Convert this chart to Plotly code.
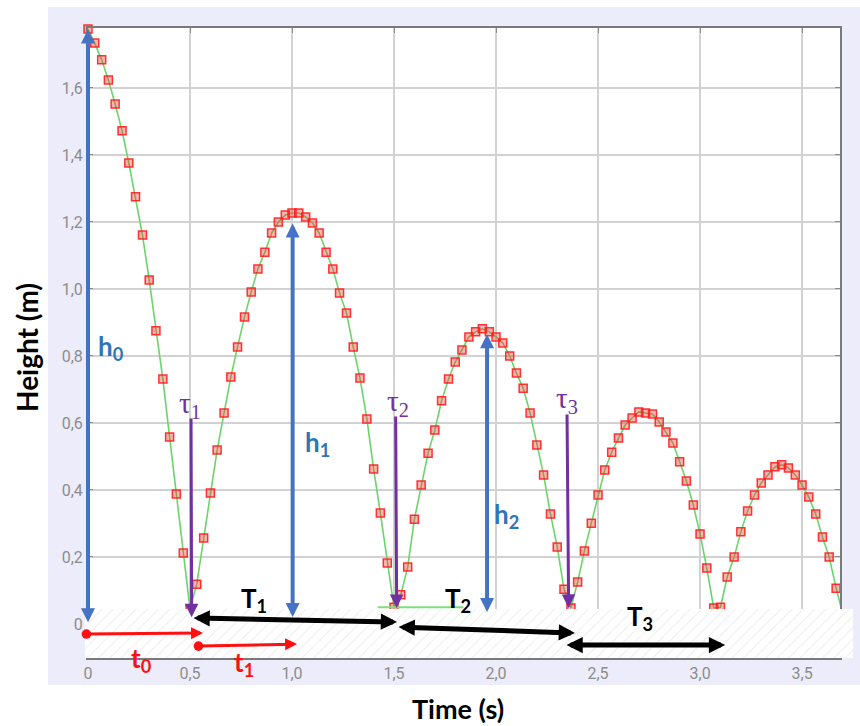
import plotly.graph_objects as go

# ---------------- data ----------------
time_s = [
    0.000, 0.033, 0.067, 0.100, 0.133, 0.167, 0.200, 0.233, 0.267, 0.300,
    0.333, 0.367, 0.400, 0.433, 0.467, 0.500, 0.533, 0.567, 0.600, 0.633,
    0.667, 0.700, 0.733, 0.767, 0.800, 0.833, 0.867, 0.900, 0.933, 0.967,
    1.000, 1.033, 1.067, 1.100, 1.133, 1.167, 1.200, 1.233, 1.267, 1.300,
    1.333, 1.367, 1.400, 1.433, 1.467, 1.500, 1.533, 1.567, 1.600, 1.633,
    1.667, 1.700, 1.733, 1.767, 1.800, 1.833, 1.867, 1.900, 1.933, 1.967,
    2.000, 2.033, 2.067, 2.100, 2.133, 2.167, 2.200, 2.233, 2.267, 2.300,
    2.333, 2.367, 2.400, 2.433, 2.467, 2.500, 2.533, 2.567, 2.600, 2.633,
    2.667, 2.700, 2.733, 2.767, 2.800, 2.833, 2.867, 2.900, 2.933, 2.967,
    3.000, 3.033, 3.067, 3.100, 3.133, 3.167, 3.200, 3.233, 3.267, 3.300,
    3.333, 3.367, 3.400, 3.433, 3.467, 3.500, 3.533, 3.567, 3.600, 3.633,
    3.667, 3.700,
]
height_m = [
    1.776, 1.734, 1.684, 1.624, 1.552, 1.472, 1.376, 1.275, 1.161, 1.027,
    0.875, 0.731, 0.558, 0.388, 0.212, 0.045, 0.119, 0.257, 0.391, 0.519,
    0.630, 0.737, 0.827, 0.916, 0.991, 1.060, 1.110, 1.167, 1.200, 1.221,
    1.227, 1.227, 1.215, 1.197, 1.167, 1.110, 1.060, 0.988, 0.928, 0.827,
    0.734, 0.612, 0.463, 0.331, 0.182, 0.050, 0.087, 0.170, 0.313, 0.415,
    0.510, 0.579, 0.666, 0.731, 0.782, 0.818, 0.857, 0.872, 0.881, 0.872,
    0.857, 0.839, 0.800, 0.749, 0.704, 0.630, 0.534, 0.445, 0.328, 0.230,
    0.104, 0.048, 0.125, 0.218, 0.301, 0.385, 0.460, 0.513, 0.555, 0.594,
    0.615, 0.633, 0.630, 0.627, 0.603, 0.573, 0.540, 0.484, 0.427, 0.355,
    0.269, 0.167, 0.048, 0.050, 0.140, 0.200, 0.275, 0.337, 0.385, 0.421,
    0.445, 0.469, 0.475, 0.466, 0.445, 0.415, 0.379, 0.328, 0.260, 0.200,
    0.107, 0.030,
]
x_tickvals = [0, 0.5, 1.0, 1.5, 2.0, 2.5, 3.0, 3.5]
x_ticktext = ["0", "0,5", "1,0", "1,5", "2,0", "2,5", "3,0", "3,5"]
y_tickvals = [0, 0.2, 0.4, 0.6, 0.8, 1.0, 1.2, 1.4, 1.6]
y_ticktext = ["0", "0,2", "0,4", "0,6", "0,8", "1,0", "1,2", "1,4", "1,6"]

# annotated quantities: (text, x, y) for labels
label_h = [("h<sub>0</sub>", 0.113, 0.824), ("h<sub>1</sub>", 1.123, 0.540), ("h<sub>2</sub>", 2.049, 0.325)]
label_tau = [("τ<sub>1</sub>", 0.50, 0.654), ("τ<sub>2</sub>", 1.52, 0.660), ("τ<sub>3</sub>", 2.348, 0.669)]
label_T = [("T<sub>1</sub>", 0.814, 0.072), ("T<sub>2</sub>", 1.814, 0.072), ("T<sub>3</sub>", 2.706, 0.018)]
label_t = [("t<sub>0</sub>", 0.26, -0.107), ("t<sub>1</sub>", 0.765, -0.119)]

# arrows: (x_tail, y_tail, x_head, y_head)
arrows_h = [(0.0, 1.779, 0.0, 0.005), (1.003, 1.200, 1.003, 0.021), (1.956, 0.869, 1.956, 0.036)]
arrows_tau = [(0.505, 0.618, 0.508, 0.020), (1.508, 0.624, 1.513, 0.048), (2.348, 0.630, 2.356, 0.048)]
arrows_T = [(0.51, 0.018, 1.515, 0.006), (1.515, -0.009, 2.387, -0.027), (2.338, -0.063, 3.123, -0.063)]
arrows_t = [(-0.015, -0.030, 0.564, -0.027), (0.534, -0.066, 1.025, -0.060)]
t2_mark = (1.42, 1.84, 0.05)

# ---------------- geometry / styles ----------------
X_RANGE = [0, 3.686]
Y_RANGE = [-0.1015, 1.779]
X_DOMAIN = [40 / 812, 792 / 812]
Y_DOMAIN = [27 / 678, 657 / 678]
GROUND_X = [-0.015, 3.75]
GROUND_TOP = 0.045

kx = (X_DOMAIN[1] - X_DOMAIN[0]) / (X_RANGE[1] - X_RANGE[0])
ky = (Y_DOMAIN[1] - Y_DOMAIN[0]) / (Y_RANGE[1] - Y_RANGE[0])
X2_RANGE = [X_RANGE[0] - X_DOMAIN[0] / kx, X_RANGE[1] + (1 - X_DOMAIN[1]) / kx]
Y2_RANGE = [Y_RANGE[0] - Y_DOMAIN[0] / ky, Y_RANGE[1] + (1 - Y_DOMAIN[1]) / ky]

BLUE = "#4472C4"
BLUE_TXT = "#2E75B6"
PURPLE = "#7030A0"
RED = "#FF1010"
BOLD = "Lato"

fig = go.Figure()

fig.add_trace(go.Scatter(
    x=time_s, y=height_m, mode="lines+markers",
    line=dict(color="#6CD46C", width=1.6),
    marker=dict(symbol="square", size=8, color="rgba(255,40,40,0.35)",
                line=dict(color="rgba(255,30,30,0.9)", width=1.5)),
    cliponaxis=False, showlegend=False, hoverinfo="skip",
))

# hatched ground overlay on a full-paper overlay subplot (same data scale)
fig.add_trace(go.Scatter(
    x=[GROUND_X[0], GROUND_X[1], GROUND_X[1], GROUND_X[0], GROUND_X[0]],
    y=[Y_RANGE[0], Y_RANGE[0], GROUND_TOP, GROUND_TOP, Y_RANGE[0]],
    mode="lines", fill="toself", line=dict(width=0),
    fillcolor="white",
    fillpattern=dict(shape="/", fgcolor="#d9d9d9", bgcolor="white", size=8, solidity=0.12),
    xaxis="x2", yaxis="y2", showlegend=False, hoverinfo="skip",
))
fig.add_trace(go.Scatter(
    x=[t2_mark[0], t2_mark[1]], y=[t2_mark[2], t2_mark[2]], mode="lines",
    line=dict(color="#7BE07B", width=2), xaxis="x2", yaxis="y2",
    showlegend=False, hoverinfo="skip",
))

ann = []


def arrow(x0, y0, x1, y1, color, width, head, size, both=False, start_head=None, start_size=None):
    d = dict(x=x1, y=y1, ax=x0, ay=y0, xref="x2", yref="y2", axref="x2", ayref="y2",
             text="", showarrow=True, arrowcolor=color, arrowwidth=width,
             arrowhead=head, arrowsize=size, standoff=0, startstandoff=0)
    if both:
        d.update(arrowside="end+start", startarrowhead=start_head if start_head is not None else head,
                 startarrowsize=start_size if start_size is not None else size)
    ann.append(d)


for a in arrows_h:
    arrow(*a, BLUE, 4, 2, 0.7, both=True)
for a in arrows_tau:
    arrow(*a, PURPLE, 3, 2, 0.9)
for a in arrows_T:
    arrow(*a, "black", 5, 2, 0.65, both=True)
for a in arrows_t:
    arrow(*a, RED, 3, 2, 0.8, both=True, start_head=6, start_size=0.8)


def label(txt, x, y, color, size, family, weight="bold"):
    ann.append(dict(x=x, y=y, xref="x2", yref="y2", text=txt, showarrow=False,
                    xanchor="center", yanchor="middle",
                    font=dict(color=color, size=size, family=family, weight=weight)))


for t, x, y in label_h:
    label(t, x, y, BLUE_TXT, 26, BOLD)
for t, x, y in label_tau:
    label(t, x, y, PURPLE, 29, "Liberation Serif", "normal")
for t, x, y in label_T:
    label(t, x, y, "black", 26, BOLD)
for t, x, y in label_t:
    label(t, x, y, RED, 26, BOLD)

# axis titles
ann.append(dict(x=(27 - 48) / 812, y=(685 - 348) / 678, xref="paper", yref="paper",
                text="Height (m)", textangle=-90, showarrow=False,
                xanchor="center", yanchor="middle",
                font=dict(family=BOLD, size=28, color="black", weight="bold")))
ann.append(dict(x=(458 - 48) / 812, y=(685 - 708) / 678, xref="paper", yref="paper",
                text="Time (s)", showarrow=False, xanchor="center", yanchor="middle",
                font=dict(family=BOLD, size=27, color="black", weight="bold")))

shapes = [
    dict(type="rect", xref="paper", yref="paper", x0=0, x1=1, y0=0, y1=1,
         fillcolor="rgb(236,236,251)", line=dict(width=0), layer="below"),
    dict(type="rect", xref="x domain", yref="y domain", x0=0, x1=1, y0=0, y1=1,
         fillcolor="white", line=dict(width=0), layer="below"),
]

axis_common = dict(showgrid=True, gridcolor="#d2d2d2", gridwidth=1.5,
                   showline=True, linecolor="#7a7a7a", linewidth=2, mirror="ticks",
                   ticks="inside", ticklen=5, tickcolor="#8a8a8a", tickwidth=1,
                   zeroline=False,
                   tickfont=dict(family="Roboto", size=16, color="#8c8c8c"))

fig.update_layout(
    width=860, height=726,
    margin=dict(l=48, r=0, t=7, b=41),
    paper_bgcolor="white", plot_bgcolor="rgba(0,0,0,0)",
    xaxis=dict(domain=X_DOMAIN, range=X_RANGE, tickmode="array",
               tickvals=x_tickvals, ticktext=x_ticktext, **axis_common),
    yaxis=dict(domain=Y_DOMAIN, range=Y_RANGE, tickmode="array",
               tickvals=y_tickvals, ticktext=y_ticktext, **axis_common),
    xaxis2=dict(domain=[0, 1], range=X2_RANGE, anchor="y2", visible=False, fixedrange=True),
    yaxis2=dict(domain=[0, 1], range=Y2_RANGE, anchor="x2", visible=False, fixedrange=True),
    annotations=ann, shapes=shapes, showlegend=False,
)

fig.write_html("out.html")
